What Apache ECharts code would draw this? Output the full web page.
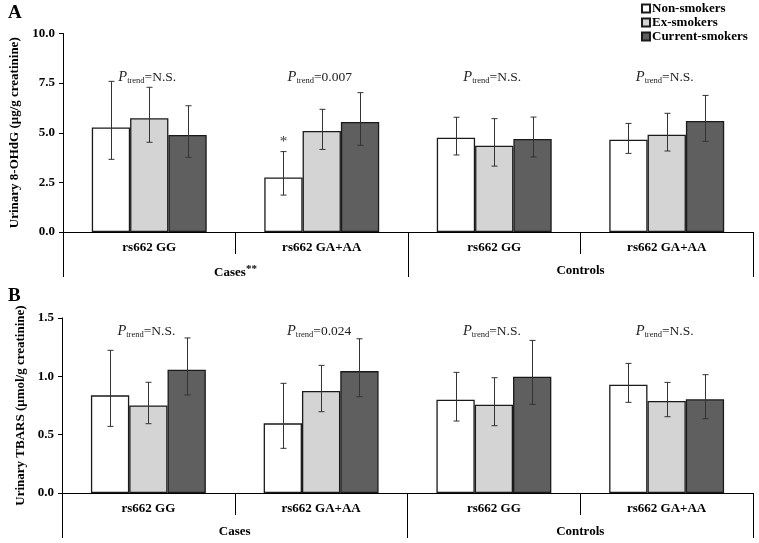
<!DOCTYPE html>
<html><head><meta charset="utf-8">
<script src="https://cdn.jsdelivr.net/npm/echarts@6/dist/echarts.min.js"></script>
<style>html,body{margin:0;padding:0;background:#fff}#c{width:759px;height:543px}</style>
</head><body><div id="c"></div>
<script>
// ---- data ----
const categories = ['rs662 GG', 'rs662 GA+AA', 'rs662 GG', 'rs662 GA+AA'];
const groupLabelsA = ['Cases**', 'Controls'];
const groupLabelsB = ['Cases', 'Controls'];
const seriesNames = ['Non-smokers', 'Ex-smokers', 'Current-smokers'];
const yTicksA = [0, 2.5, 5, 7.5, 10];
const yTicksB = [0, 0.5, 1, 1.5];

// Panel A: urinary 8-OHdG
const ohdgNon = [5.27, 2.75, 4.75, 4.65];
const ohdgNonLow = [3.66, 1.86, 3.88, 3.96];
const ohdgNonHigh = [7.59, 4.05, 5.78, 5.47];
const ohdgEx = [5.73, 5.09, 4.35, 4.90];
const ohdgExLow = [4.52, 4.16, 3.32, 4.08];
const ohdgExHigh = [7.29, 6.18, 5.71, 5.98];
const ohdgCur = [4.89, 5.54, 4.69, 5.59];
const ohdgCurLow = [3.76, 4.37, 3.78, 4.57];
const ohdgCurHigh = [6.36, 7.02, 5.79, 6.88];
const ohdgNonSig = ['', '*', '', ''];
const pTrendA = ['N.S.', '0.007', 'N.S.', 'N.S.'];

// Panel B: urinary TBARS
const tbarsNon = [0.837, 0.597, 0.800, 0.928];
const tbarsNonLow = [0.571, 0.383, 0.617, 0.777];
const tbarsNonHigh = [1.223, 0.940, 1.034, 1.111];
const tbarsEx = [0.751, 0.874, 0.757, 0.788];
const tbarsExLow = [0.594, 0.697, 0.577, 0.654];
const tbarsExHigh = [0.949, 1.094, 0.988, 0.948];
const tbarsCur = [1.057, 1.045, 0.997, 0.803];
const tbarsCurLow = [0.840, 0.825, 0.760, 0.637];
const tbarsCurHigh = [1.329, 1.322, 1.308, 1.014];
const pTrendB = ['N.S.', '0.024', 'N.S.', 'N.S.'];

// ---- styling ----
const FONT = '"Liberation Serif", "Times New Roman", serif';
const fills = ['#ffffff', '#d4d4d4', '#5f5f5f'];
const BAR_W = 38.3;
const pTrendLevelA = 7.8;
const pTrendLevelB = 1.385;

function errRender(k) {
  return function (params, api) {
    const c = api.value(0), lo = api.value(1), hi = api.value(2);
    const sig = api.value(3);
    const pLo = api.coord([c, lo]), pHi = api.coord([c, hi]);
    const x = Math.round(pLo[0] + (k - 1) * BAR_W) + 0.5;
    const cap = 3;
    const st = { stroke: '#333', lineWidth: 1 };
    const ch = [
      { type: 'line', shape: { x1: x, y1: pLo[1], x2: x, y2: pHi[1] }, style: st },
      { type: 'line', shape: { x1: x - cap, y1: pHi[1], x2: x + cap, y2: pHi[1] }, style: st },
      { type: 'line', shape: { x1: x - cap, y1: pLo[1], x2: x + cap, y2: pLo[1] }, style: st }
    ];
    if (sig && sig !== '-') {
      ch.push({ type: 'text', x: x, y: pHi[1] - 2, style: { text: sig, fill: '#333', font: '15px ' + FONT, align: 'center', verticalAlign: 'bottom' } });
    }
    return { type: 'group', children: ch };
  };
}
function pRender(params, api) {
  const c = api.value(0), lvl = api.value(1);
  const p = api.coord([c, lvl]);
  return {
    type: 'text', x: p[0] - 2, y: p[1],
    style: {
      text: '{i|P}{s|trend}{n|=' + api.value(2) + '}',
      align: 'center', verticalAlign: 'middle', fill: '#222',
      rich: {
        i: { font: 'italic 14.5px ' + FONT, fill: '#222', lineHeight: 18, verticalAlign: 'middle' },
        s: { font: '8.5px ' + FONT, fill: '#222', verticalAlign: 'bottom', padding: [0, 0, 1, 0] },
        n: { font: '13.5px ' + FONT, fill: '#222', lineHeight: 18, verticalAlign: 'middle' }
      }
    }
  };
}

function panelSeries(gi, means, lows, highs, sigs, ptrend, plevel) {
  const out = [];
  for (let k = 0; k < 3; k++) {
    out.push({
      name: seriesNames[k], type: 'bar', xAxisIndex: gi * 2, yAxisIndex: gi,
      data: means[k], barWidth: BAR_W, barGap: '0%',
      itemStyle: { color: fills[k], borderColor: '#1a1a1a', borderWidth: 1.3 },
      emphasis: { disabled: true }, animation: false
    });
  }
  for (let k = 0; k < 3; k++) {
    out.push({
      type: 'custom', xAxisIndex: gi * 2, yAxisIndex: gi, z: 5,
      renderItem: errRender(k), animation: false, silent: true,
      encode: { x: 0, y: [1, 2] },
      data: categories.map((_, i) => [i, lows[k][i], highs[k][i], (sigs[k] && sigs[k][i]) || '-'])
    });
  }
  out.push({
    type: 'custom', xAxisIndex: gi * 2, yAxisIndex: gi, z: 5, animation: false, silent: true,
    renderItem: pRender, encode: { x: 0, y: 1 },
    data: categories.map((_, i) => [i, plevel, ptrend[i]])
  });
  return out;
}

function groupFormatter(v) {
  const m = v.match(/^(.*?)(\*+)$/);
  return m ? '{m|' + m[1] + '}{sup|' + m[2] + '}' : '{m|' + v + '}';
}
const labelBold = { fontFamily: FONT, fontWeight: 'bold', fontSize: 13, color: '#000' };

function xAxes(gi, groupLabels) {
  return [
    {
      type: 'category', gridIndex: gi, data: categories, position: 'bottom',
      axisLine: { show: true, lineStyle: { color: '#000', width: 1 } },
      axisTick: { show: true, interval: 0, alignWithLabel: false, length: 22, lineStyle: { color: '#000', width: 1 } },
      axisLabel: Object.assign({ margin: 9, interval: 0 }, labelBold)
    },
    {
      type: 'category', gridIndex: gi, data: groupLabels, position: 'bottom',
      axisLine: { show: false },
      axisTick: { show: true, interval: 0, alignWithLabel: false, length: 45, lineStyle: { color: '#000', width: 1 } },
      axisLabel: Object.assign({
        margin: 32, interval: 0, formatter: groupFormatter,
        rich: {
          m: Object.assign({}, labelBold),
          sup: Object.assign({}, labelBold, { fontSize: 11, verticalAlign: 'top', padding: [0, 0, 6, 0] })
        }
      }, labelBold)
    }
  ];
}
function yAxis(gi, max, interval, name) {
  return {
    type: 'value', gridIndex: gi, min: 0, max: max, interval: interval,
    splitLine: { show: false },
    axisLine: { show: true, lineStyle: { color: '#000' } },
    axisTick: { show: true, length: 4, lineStyle: { color: '#000' } },
    axisLabel: Object.assign({ margin: 8, formatter: v => v.toFixed(1) }, labelBold),
    name: name, nameLocation: 'middle', nameGap: 33, nameRotate: 90,
    nameTextStyle: Object.assign({}, labelBold)
  };
}

const chart = echarts.init(document.getElementById('c'), null, { renderer: 'canvas' });
chart.setOption({
  backgroundColor: '#fff',
  animation: false,
  textStyle: { fontFamily: FONT },
  legend: {
    data: seriesNames, orient: 'vertical', left: 636, top: -3,
    icon: 'rect', itemWidth: 8, itemHeight: 8, itemGap: 1,
    textStyle: { fontFamily: FONT, fontWeight: 'bold', fontSize: 13, color: '#000', lineHeight: 12.5, padding: [0, 0, 0, -3] },
    selectedMode: false
  },
  grid: [
    { left: 63, right: 6, top: 33.5, height: 198.5 },
    { left: 62, right: 6, top: 318, height: 175 }
  ],
  xAxis: xAxes(0, groupLabelsA).concat(xAxes(1, groupLabelsB)),
  yAxis: [
    yAxis(0, yTicksA[yTicksA.length - 1], yTicksA[1] - yTicksA[0], 'Urinary 8-OHdG (μg/g creatinine)'),
    yAxis(1, yTicksB[yTicksB.length - 1], yTicksB[1] - yTicksB[0], 'Urinary TBARS (μmol/g creatinine)')
  ],
  graphic: [
    { type: 'text', left: 8, top: 4, style: { text: 'A', font: 'bold 19px ' + FONT, fill: '#000' } },
    { type: 'text', left: 8, top: 287, style: { text: 'B', font: 'bold 19px ' + FONT, fill: '#000' } }
  ],
  series: panelSeries(0,
      [ohdgNon, ohdgEx, ohdgCur], [ohdgNonLow, ohdgExLow, ohdgCurLow], [ohdgNonHigh, ohdgExHigh, ohdgCurHigh],
      [ohdgNonSig, null, null], pTrendA, pTrendLevelA)
    .concat(panelSeries(1,
      [tbarsNon, tbarsEx, tbarsCur], [tbarsNonLow, tbarsExLow, tbarsCurLow], [tbarsNonHigh, tbarsExHigh, tbarsCurHigh],
      [null, null, null], pTrendB, pTrendLevelB))
});
</script>
</body></html>
